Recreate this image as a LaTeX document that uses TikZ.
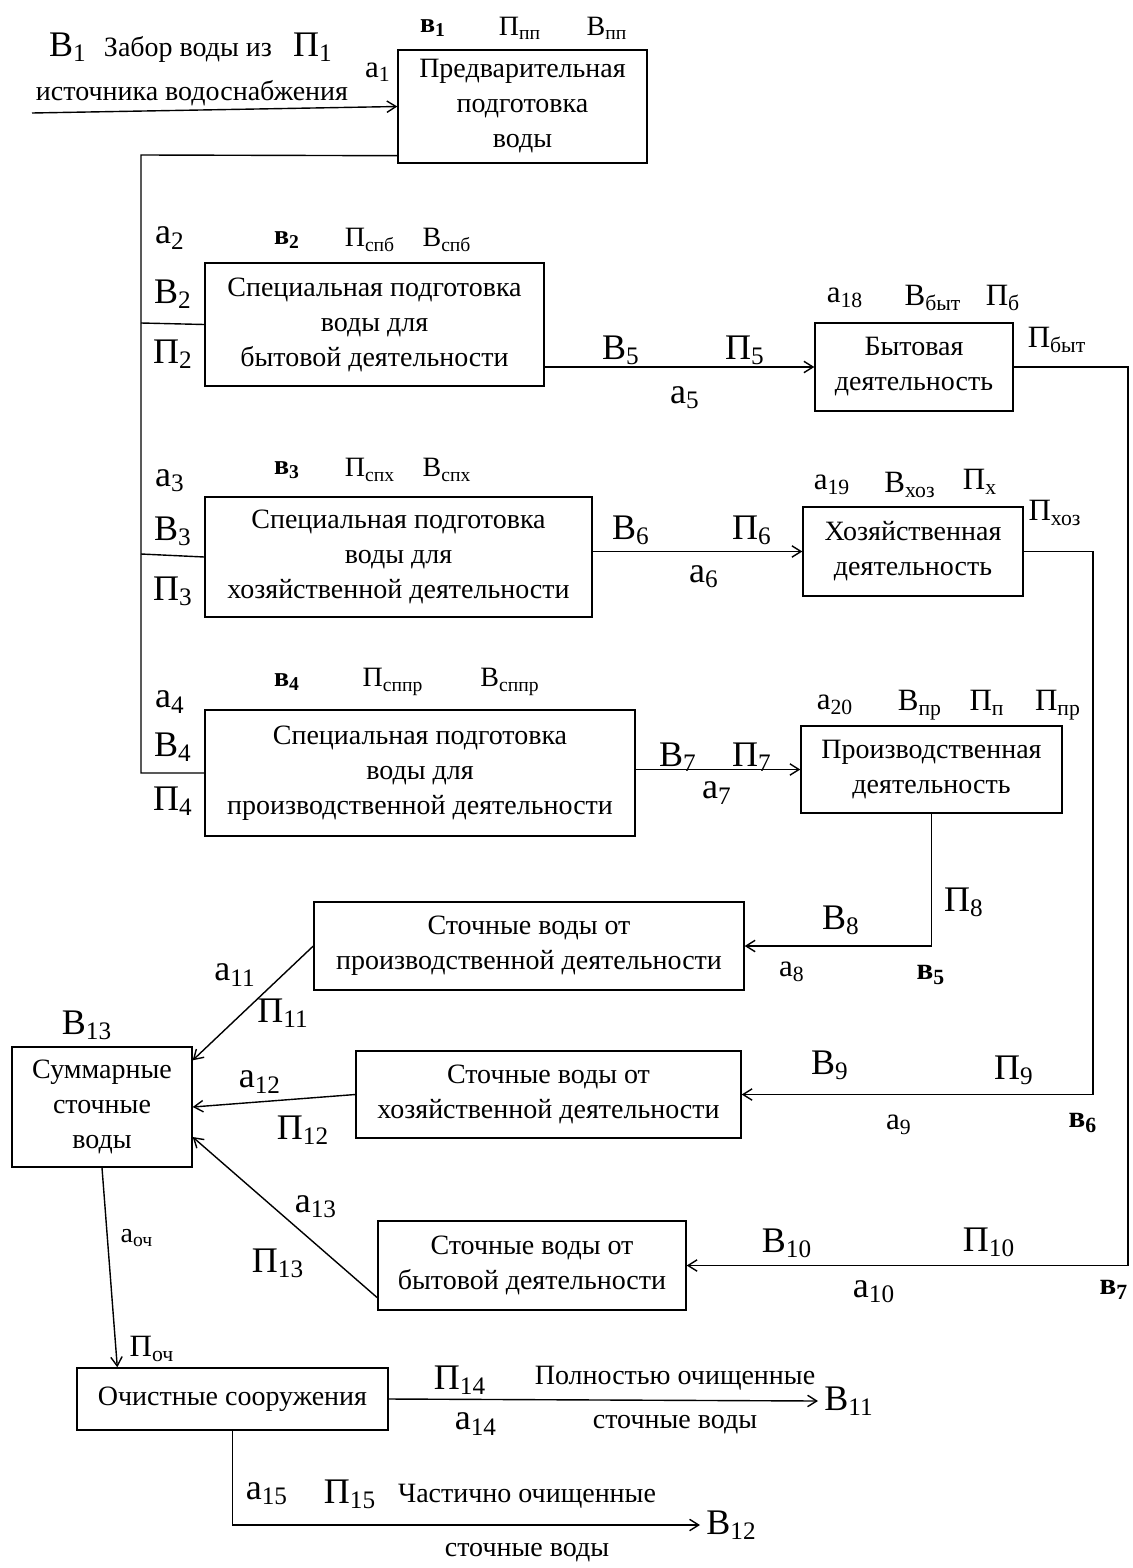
\documentclass[tikz,border=0pt]{standalone}
\usepackage{fontspec}
\setmainfont{Liberation Serif}
\usetikzlibrary{arrows.meta, positioning}
\newcommand{\lsub}[2]{#1\textsubscript{#2}}

\begin{document}
\begin{tikzpicture}[
      x=0.5pt, y=-0.5pt,
      box/.style={draw, line width=0.7pt, align=center, inner sep=2pt, font=\fontsize{14}{17.5}\selectfont},
      lab/.style={inner sep=0pt, font=\fontsize{18}{20}\selectfont},
      labm/.style={inner sep=0pt, font=\fontsize{15.5}{18}\selectfont},
      labs/.style={inner sep=0pt, font=\fontsize{14}{16}\selectfont},
      labt/.style={inner sep=0pt, align=center, font=\fontsize{14}{17}\selectfont},
      arrow/.style={-{Straight Barb[length=1.6mm, width=2mm]}, line width=0.7pt},
      line/.style={line width=0.7pt}
    ]
    \useasboundingbox (0,0) rectangle (1132,1568);

    % blocks
    \node[box, minimum width=124.5pt, minimum height=56.5pt] (pre) at (522.5,106.5) {Предварительная\\подготовка\\воды};
    \node[box, minimum width=169.5pt, minimum height=61.5pt] (sp1) at (374.5,324.5) {Специальная подготовка\\воды для\\бытовой деятельности};
    \node[box, minimum width=193.5pt, minimum height=60pt] (sp2) at (398.5,557) {Специальная подготовка\\воды для\\хозяйственной деятельности};
    \node[box, minimum width=215pt, minimum height=63pt] (sp3) at (420,773) {Специальная подготовка\\воды для\\производственной деятельности};
    \node[box, minimum width=99pt, minimum height=44pt] (byt) at (914,367) {Бытовая\\деятельность};
    \node[box, minimum width=110pt, minimum height=44.5pt] (hoz) at (913,551.5) {Хозяйственная\\деятельность};
    \node[box, minimum width=130.5pt, minimum height=43.5pt] (pr) at (931.5,769.5) {Производственная\\деятельность};
    \node[box, minimum width=215pt, minimum height=44pt] (st1) at (529,946) {Сточные воды от\\производственной деятельности};
    \node[box, minimum width=192.5pt, minimum height=43.5pt] (st2) at (548.5,1094.5) {Сточные воды от\\хозяйственной деятельности};
    \node[box, minimum width=154pt, minimum height=44.5pt] (st3) at (532,1265.5) {Сточные воды от\\бытовой деятельности};
    \node[box, minimum width=90pt, minimum height=60pt] (sum) at (102,1107) {Суммарные\\сточные\\воды};
    \node[box, minimum width=155.5pt, minimum height=31pt] (och) at (232.5,1399) {Очистные сооружения};

    % outputs
    \node[lab, anchor=west, inner sep=3pt] (v11) at (818,1401) {\lsub{В}{11}};
    \node[lab, anchor=west, inner sep=3pt] (v12) at (700,1525) {\lsub{В}{12}};

    % connectors
    \coordinate (src) at (32,113);
    \coordinate (t0) at (141,155);
    \coordinate (t1) at (141,323);
    \coordinate (t2) at (141,554);
    \coordinate (t3) at (141,773);
    \coordinate (rb) at (1128,1265.5);
    \coordinate (rh) at (1093,1094.5);
    \draw[arrow] (src) -- (pre.west);
    \draw[line] ([yshift=4pt]pre.south west) -- (t0) -- (t3) -- (sp3.west);
    \draw[line] (t1) -- (sp1.west);
    \draw[line] (t2) -- (sp2.west);
    \draw[arrow] (sp1.east |- byt.west) -- (byt.west);
    \draw[arrow] (sp2.east |- hoz.west) -- (hoz.west);
    \draw[arrow] (sp3.east |- pr.west) -- (pr.west);
    \draw[arrow] (byt.east) -| (rb) -- (st3.east);
    \draw[arrow] (hoz.east) -| (rh) -- (st2.east);
    \draw[arrow] (pr.south) |- (st1.east);
    \draw[arrow] (st1.west) -- ([yshift=-7pt]sum.north east);
    \draw[arrow] (st2.west) -- (sum.east);
    \draw[arrow] ([yshift=6.5pt]st3.south west) -- ([yshift=-15pt]sum.east);
    \draw[arrow] (sum.south) -- ([xshift=20.5pt]och.north west);
    \draw[arrow] (och.east) -- (v11.west);
    \draw[arrow] (och.south) |- (v12.west);

    % labels at the top
    \node[lab] (lB1) at (68,47) {\lsub{В}{1}};
    \node[labt] (lzab) at (188,49) {Забор воды из};
    \node[lab] (lP1) at (313,47) {\lsub{П}{1}};
    \node[labt] (list) at (192,93) {источника водоснабжения};
    \node[labm] (la1) at (378,72) {\lsub{а}{1}};
    \node[labs, font=\fontsize{14}{16}\bfseries] (lv1) at (433,28) {\lsub{в}{1}};
    \node[labs] (lPpp) at (520,28) {\lsub{П}{пп}};
    \node[labs] (lVpp) at (607,28) {\lsub{В}{пп}};

    % labels of the left column
    \node[lab] (la2) at (170,238) {\lsub{а}{2}};
    \node[lab] (lB2) at (173,294) {\lsub{В}{2}};
    \node[lab] (lP2) at (173,354) {\lsub{П}{2}};
    \node[labs, font=\fontsize{14}{16}\bfseries] (lv2) at (287,240) {\lsub{в}{2}};
    \node[labs] (lPspb) at (370,240) {\lsub{П}{спб}};
    \node[labs] (lVspb) at (447,240) {\lsub{В}{спб}};
    \node[lab] (la3) at (170,481) {\lsub{а}{3}};
    \node[lab] (lB3) at (173,531) {\lsub{В}{3}};
    \node[lab] (lP3) at (173,591) {\lsub{П}{3}};
    \node[labs, font=\fontsize{14}{16}\bfseries] (lv3) at (287,470) {\lsub{в}{3}};
    \node[labs] (lPspx) at (370,470) {\lsub{П}{спх}};
    \node[labs] (lVspx) at (447,470) {\lsub{В}{спх}};
    \node[lab] (la4) at (170,702) {\lsub{а}{4}};
    \node[lab] (lB4) at (173,747) {\lsub{В}{4}};
    \node[lab] (lP4) at (173,801) {\lsub{П}{4}};
    \node[labs, font=\fontsize{14}{16}\bfseries] (lv4) at (287,682) {\lsub{в}{4}};
    \node[labs] (lPsppr) at (393,682) {\lsub{П}{сппр}};
    \node[labs] (lVsppr) at (510,682) {\lsub{В}{сппр}};

    % labels of the middle arrows
    \node[lab] (lB5) at (621,350) {\lsub{В}{5}};
    \node[lab] (lP5) at (745,350) {\lsub{П}{5}};
    \node[lab] (la5) at (685,398) {\lsub{а}{5}};
    \node[lab] (lB6) at (631,530) {\lsub{В}{6}};
    \node[lab] (lP6) at (752,530) {\lsub{П}{6}};
    \node[lab] (la6) at (704,577) {\lsub{а}{6}};
    \node[lab] (lB7) at (678,757) {\lsub{В}{7}};
    \node[lab] (lP7) at (752,757) {\lsub{П}{7}};
    \node[lab] (la7) at (717,793) {\lsub{а}{7}};

    % labels of the activities
    \node[labm] (la18) at (845,298) {\lsub{а}{18}};
    \node[labm] (lVbyt) at (933,298) {\lsub{В}{быт}};
    \node[labm] (lPb) at (1003,298) {\lsub{П}{б}};
    \node[labm] (lPbyt) at (1057,340) {\lsub{П}{быт}};
    \node[labm] (la19) at (832,485) {\lsub{а}{19}};
    \node[labm] (lVhoz) at (910,485) {\lsub{В}{хоз}};
    \node[labm] (lPx) at (980,482) {\lsub{П}{х}};
    \node[labm] (lPhoz) at (1055,513) {\lsub{П}{хоз}};
    \node[labm] (la20) at (835,705) {\lsub{а}{20}};
    \node[labm] (lVpr) at (920,705) {\lsub{В}{пр}};
    \node[labm] (lPp) at (987,703) {\lsub{П}{п}};
    \node[labm] (lPpr) at (1058,705) {\lsub{П}{пр}};

    % labels of the waste water
    \node[lab] (lP8) at (964,902) {\lsub{П}{8}};
    \node[lab] (lB8) at (841,920) {\lsub{В}{8}};
    \node[labm] (la8) at (792,972) {\lsub{а}{8}};
    \node[labm, font=\fontsize{15.5}{18}\bfseries] (lv5) at (931,975) {\lsub{в}{5}};
    \node[lab] (lB9) at (830,1065) {\lsub{В}{9}};
    \node[lab] (lP9) at (1014,1070) {\lsub{П}{9}};
    \node[labm] (la9) at (899,1125) {\lsub{а}{9}};
    \node[labm, font=\fontsize{15.5}{18}\bfseries] (lv6) at (1083,1123) {\lsub{в}{6}};
    \node[lab] (lB10) at (787,1243) {\lsub{В}{10}};
    \node[lab] (lP10) at (989,1242) {\lsub{П}{10}};
    \node[lab] (la10) at (874,1292) {\lsub{а}{10}};
    \node[labm, font=\fontsize{15.5}{18}\bfseries] (lv7) at (1114,1290) {\lsub{в}{7}};

    % labels round the sum
    \node[lab] (lB13) at (87,1025) {\lsub{В}{13}};
    \node[lab] (la11) at (235,975) {\lsub{а}{11}};
    \node[lab] (lP11) at (283,1013) {\lsub{П}{11}};
    \node[lab] (la12) at (260,1082) {\lsub{а}{12}};
    \node[lab] (lP12) at (303,1130) {\lsub{П}{12}};
    \node[lab] (la13) at (316,1207) {\lsub{а}{13}};
    \node[lab] (lP13) at (278,1263) {\lsub{П}{13}};
    \node[labs] (laoch) at (137,1238) {\lsub{а}{оч}};
    \node[labm] (lPoch) at (152,1349) {\lsub{П}{оч}};

    % labels of the treatment
    \node[lab] (lP14) at (460,1380) {\lsub{П}{14}};
    \node[lab] (la14) at (476,1424) {\lsub{а}{14}};
    \node[labt] (lfull) at (675,1378) {Полностью очищенные};
    \node[labt] (lfull2) at (675,1425) {сточные воды};
    \node[lab] (la15) at (267,1494) {\lsub{а}{15}};
    \node[lab] (lP15) at (350,1494) {\lsub{П}{15}};
    \node[labt] (lpart) at (527,1496) {Частично очищенные};
    \node[labt] (lpart2) at (527,1553) {сточные воды};
\end{tikzpicture}
\end{document}
